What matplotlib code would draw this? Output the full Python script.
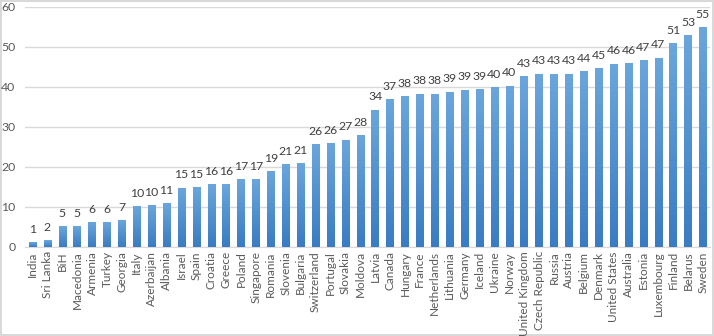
import numpy as np
import matplotlib
matplotlib.use("Agg")
import matplotlib.pyplot as plt
from matplotlib.colors import LinearSegmentedColormap

countries = ["India", "Sri Lanka", "BiH", "Macedonia", "Armenia", "Turkey", "Georgia",
             "Italy", "Azerbaijan", "Albania", "Israel", "Spain", "Croatia", "Greece",
             "Poland", "Singapore", "Romania", "Slovenia", "Bulgaria", "Switzerland",
             "Portugal", "Slovakia", "Moldova", "Latvia", "Canada", "Hungary", "France",
             "Netherlands", "Lithuania", "Germany", "Iceland", "Ukraine", "Norway",
             "United Kingdom", "Czech Republic", "Russia", "Austria", "Belgium", "Denmark",
             "United States", "Australia", "Estonia", "Luxembourg", "Finland", "Belarus",
             "Sweden"]
values = [1.0, 1.6, 5.0, 5.0, 6.0, 6.0, 6.6,
          10.0, 10.3, 10.8, 14.7, 14.9, 15.6, 15.6,
          16.9, 16.9, 18.9, 20.6, 20.9, 25.6,
          25.9, 26.7, 27.9, 34.2, 36.9, 37.6, 38.2,
          38.2, 38.7, 39.2, 39.4, 39.8, 40.2,
          42.6, 43.2, 43.2, 43.2, 43.9, 44.6,
          45.7, 45.9, 46.6, 47.2, 50.9, 52.7,
          54.7]
yticks = [0, 10, 20, 30, 40, 50, 60]

plt.rcParams['font.family'] = ['Lato', 'DejaVu Sans']

fig = plt.figure(figsize=(7.14, 3.36), dpi=100)
fig.patch.set_edgecolor('#d9d9d9')
fig.patch.set_linewidth(1.5)
ax = fig.add_axes([0.035, 0.265, 0.96, 0.715])

x = np.arange(len(countries))
width = 0.5
bars = ax.bar(x, values, width=width, color='#5b9bd5', zorder=2)

# vertical gradient inside each bar, lighter at the top
cmap = LinearSegmentedColormap.from_list('barfade', ['#3a7cc2', '#6aa6dc'])
grad = np.linspace(0, 1, 64).reshape(-1, 1)
for b in bars:
    x0, w, h = b.get_x(), b.get_width(), b.get_height()
    ax.imshow(grad, cmap=cmap, aspect='auto', origin='lower',
              extent=[x0, x0 + w, 0, h], zorder=3)

for xi, v in zip(x, values):
    ax.text(xi, v + 1.9, f"{v:.0f}", ha='center', va='bottom',
            fontsize=8.8, color='#404040')

ax.set_xlim(-0.5, len(countries) - 0.5)
ax.set_ylim(0, 60)
ax.set_yticks(yticks)
ax.set_xticks(x)
ax.set_xticklabels(countries, rotation=90, fontsize=8.5, color='#595959')
ax.tick_params(axis='y', labelsize=8.8, labelcolor='#595959', length=0, pad=7)
ax.tick_params(axis='x', length=0, pad=3)
ax.grid(axis='y', color='#d9d9d9', linewidth=1, zorder=0)
for s in ['top', 'right', 'left']:
    ax.spines[s].set_visible(False)
ax.spines['bottom'].set_color('#d9d9d9')

fig.savefig('out.png', dpi=100)
